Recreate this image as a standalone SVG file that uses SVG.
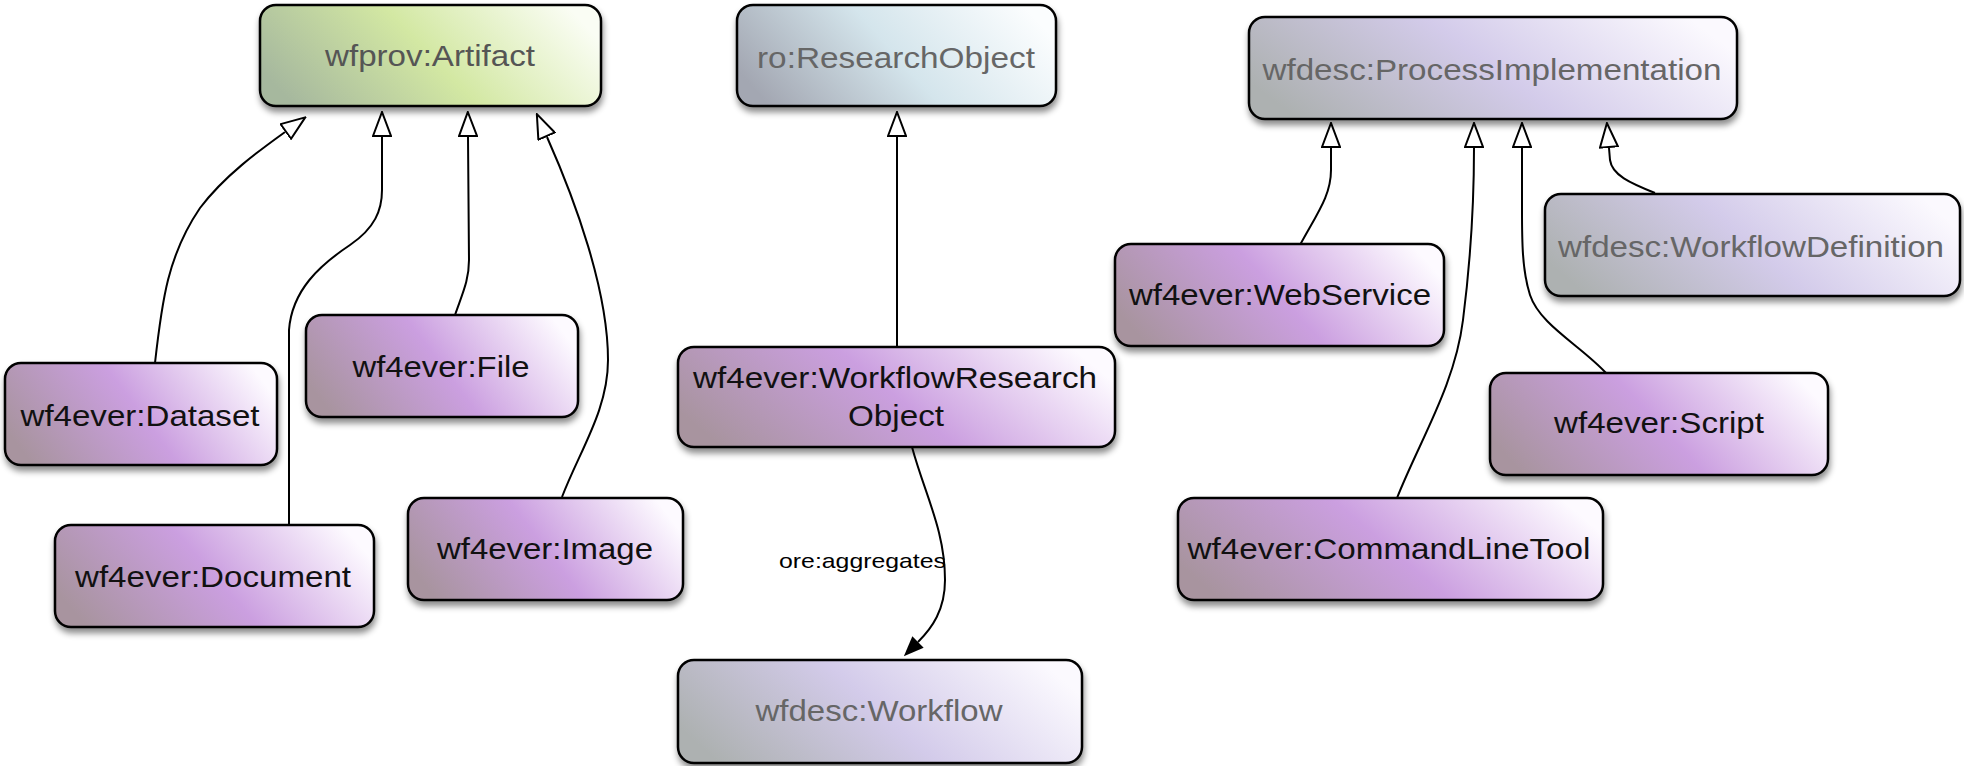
<svg xmlns="http://www.w3.org/2000/svg" width="1964" height="766" viewBox="0 0 1964 766">
<defs>
<linearGradient id="gPurple" x1="0" y1="0.64" x2="1" y2="0.36">
<stop offset="0" stop-color="#a8949f"/>
<stop offset="0.5" stop-color="#cb9fe0"/>
<stop offset="1" stop-color="#fdfaff"/>
</linearGradient>
<linearGradient id="gGreen" x1="0" y1="0.64" x2="1" y2="0.36">
<stop offset="0" stop-color="#a6b89e"/>
<stop offset="0.5" stop-color="#d3e8a3"/>
<stop offset="1" stop-color="#fafdf4"/>
</linearGradient>
<linearGradient id="gBlue" x1="0" y1="0.64" x2="1" y2="0.36">
<stop offset="0" stop-color="#a3a7b2"/>
<stop offset="0.5" stop-color="#d4e5ec"/>
<stop offset="1" stop-color="#fbfdfe"/>
</linearGradient>
<linearGradient id="gGray" x1="0" y1="0.64" x2="1" y2="0.36">
<stop offset="0" stop-color="#adb1b1"/>
<stop offset="0.5" stop-color="#d3cbea"/>
<stop offset="1" stop-color="#fbf9fe"/>
</linearGradient>
<filter id="shadow" x="-10%" y="-20%" width="120%" height="150%">
<feDropShadow dx="1" dy="5" stdDeviation="3" flood-color="#000" flood-opacity="0.45"/>
</filter>
<marker id="hollow" viewBox="0 0 26 20" refX="0" refY="10" markerWidth="26" markerHeight="20" markerUnits="userSpaceOnUse" orient="auto">
<path d="M1,1 L25,10 L1,19 Z" fill="#fff" stroke="#000" stroke-width="2"/>
</marker>
<marker id="filled" viewBox="0 0 20 16" refX="0" refY="8" markerWidth="20" markerHeight="16" markerUnits="userSpaceOnUse" orient="auto">
<path d="M0,0 L20,8 L0,16 Z" fill="#000"/>
</marker>
</defs>
<style>
.box{stroke:#000;stroke-width:2.5;filter:url(#shadow)}
.purple{fill:url(#gPurple)}
.green{fill:url(#gGreen)}
.blue{fill:url(#gBlue)}
.gray{fill:url(#gGray)}
text{font-family:"Liberation Sans",Arial,Helvetica,sans-serif;font-size:29px;text-anchor:middle}
.dark{fill:#111}
.dim{fill:#666}
.dimg{fill:#555}
.edge{fill:none;stroke:#000;stroke-width:2}
.lbl{font-size:21px;fill:#000;text-anchor:start}
</style>
<rect width="1964" height="766" fill="#fff"/>

<g id="connectors">
<path class="edge" marker-end="url(#hollow)" d="M155,363 C162,300 168,255 200,208 C225,175 260,150 285,132"/>
<path class="edge" marker-end="url(#hollow)" d="M289,525 L289,330 C292,290 320,265 350,245 C375,228 382,210 382,190 L382,137"/>
<path class="edge" marker-end="url(#hollow)" d="M455,315 C463,292 469,280 469,260 L468,137"/>
<path class="edge" marker-end="url(#hollow)" d="M562,497 C580,450 608,410 608,360 C608,290 575,200 547,137"/>
<path class="edge" marker-end="url(#hollow)" d="M897,347 L897,137"/>
<path class="edge" marker-end="url(#filled)" d="M912,447 C925,495 945,530 945,580 C945,610 932,628 918,642"/>
<text class="lbl" x="779" y="568" textLength="167" lengthAdjust="spacingAndGlyphs">ore:aggregates</text>
<path class="edge" marker-end="url(#hollow)" d="M1300,245 C1318,212 1331,195 1331,170 L1331,148"/>
<path class="edge" marker-end="url(#hollow)" d="M1397,498 C1420,440 1455,385 1463,320 C1470,265 1474,200 1474,148"/>
<path class="edge" marker-end="url(#hollow)" d="M1606,373 C1580,345 1540,325 1530,295 C1522,270 1522,240 1522,210 L1522,148"/>
<path class="edge" marker-end="url(#hollow)" d="M1655,193 C1630,183 1612,175 1610,160 L1609,148"/>
</g>

<g id="artifact">
<rect class="box green" x="260" y="5" width="341" height="101" rx="16"/>
<text class="dimg" x="430" y="66" textLength="210" lengthAdjust="spacingAndGlyphs">wfprov:Artifact</text>
</g>
<g id="researchobject">
<rect class="box blue" x="737" y="5" width="319" height="101" rx="16"/>
<text class="dim" x="896" y="68" textLength="278" lengthAdjust="spacingAndGlyphs">ro:ResearchObject</text>
</g>
<g id="processimplementation">
<rect class="box gray" x="1249" y="17" width="488" height="102" rx="16"/>
<text class="dim" x="1492" y="80" textLength="459" lengthAdjust="spacingAndGlyphs">wfdesc:ProcessImplementation</text>
</g>
<g id="dataset">
<rect class="box purple" x="5" y="363" width="272" height="102" rx="16"/>
<text class="dark" x="140" y="426" textLength="239" lengthAdjust="spacingAndGlyphs">wf4ever:Dataset</text>
</g>
<g id="file">
<rect class="box purple" x="306" y="315" width="272" height="102" rx="16"/>
<text class="dark" x="441" y="377" textLength="177" lengthAdjust="spacingAndGlyphs">wf4ever:File</text>
</g>
<g id="document">
<rect class="box purple" x="55" y="525" width="319" height="102" rx="16"/>
<text class="dark" x="213" y="587" textLength="276" lengthAdjust="spacingAndGlyphs">wf4ever:Document</text>
</g>
<g id="image">
<rect class="box purple" x="408" y="498" width="275" height="102" rx="16"/>
<text class="dark" x="545" y="559" textLength="216" lengthAdjust="spacingAndGlyphs">wf4ever:Image</text>
</g>
<g id="workflowresearchobject">
<rect class="box purple" x="678" y="347" width="437" height="100" rx="16"/>
<text class="dark" x="895" y="388" textLength="404" lengthAdjust="spacingAndGlyphs">wf4ever:WorkflowResearch</text>
<text class="dark" x="896" y="426" textLength="96" lengthAdjust="spacingAndGlyphs">Object</text>
</g>
<g id="workflow">
<rect class="box gray" x="678" y="660" width="404" height="103" rx="16"/>
<text class="dim" x="879" y="721" textLength="247" lengthAdjust="spacingAndGlyphs">wfdesc:Workflow</text>
</g>
<g id="webservice">
<rect class="box purple" x="1115" y="244" width="329" height="102" rx="16"/>
<text class="dark" x="1280" y="305" textLength="302" lengthAdjust="spacingAndGlyphs">wf4ever:WebService</text>
</g>
<g id="workflowdefinition">
<rect class="box gray" x="1545" y="194" width="415" height="102" rx="16"/>
<text class="dim" x="1751" y="257" textLength="386" lengthAdjust="spacingAndGlyphs">wfdesc:WorkflowDefinition</text>
</g>
<g id="script">
<rect class="box purple" x="1490" y="373" width="338" height="102" rx="16"/>
<text class="dark" x="1659" y="433" textLength="210" lengthAdjust="spacingAndGlyphs">wf4ever:Script</text>
</g>
<g id="commandlinetool">
<rect class="box purple" x="1178" y="498" width="425" height="102" rx="16"/>
<text class="dark" x="1389" y="559" textLength="403" lengthAdjust="spacingAndGlyphs">wf4ever:CommandLineTool</text>
</g>
</svg>
